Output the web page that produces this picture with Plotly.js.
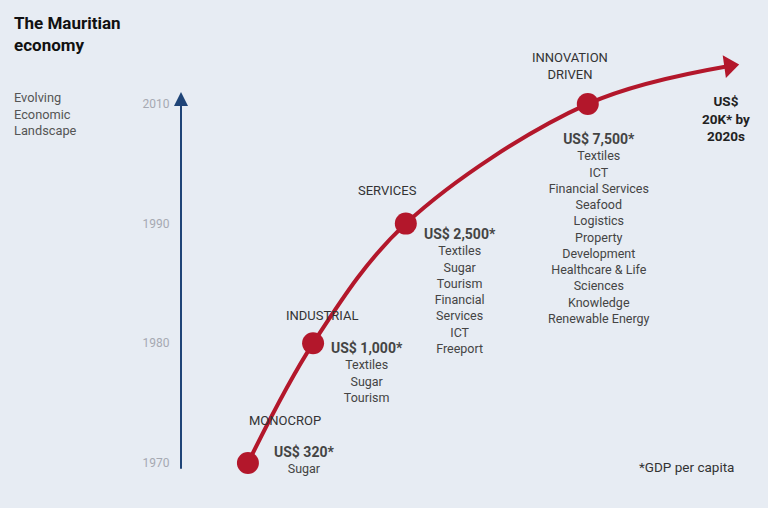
<!DOCTYPE html>
<html>
<head>
<meta charset="utf-8">
<script src="https://cdn.plot.ly/plotly-3.0.1.min.js"></script>
<style>
html,body{margin:0;padding:0;background:#e7ecf3;}
#chart{width:768px;height:508px;}
</style>
</head>
<body>
<div id="chart"></div>
<script>
// ---- data ----
const years = ['1970', '1980', '1990', '2010'];
const stageIndex = [0, 1, 2, 3];
const curveProgress = [1.14, 2.25, 3.83, 6.93];
const stages = ['MONOCROP', 'INDUSTRIAL', 'SERVICES', 'INNOVATION<br>DRIVEN'];
const gdpLabels = ['US$ 320*', 'US$ 1,000*', 'US$ 2,500*', 'US$ 7,500*'];
const sectors = [
  ['Sugar'],
  ['Textiles', 'Sugar', 'Tourism'],
  ['Textiles', 'Sugar', 'Tourism', 'Financial', 'Services', 'ICT', 'Freeport'],
  ['Textiles', 'ICT', 'Financial Services', 'Seafood', 'Logistics', 'Property',
   'Development', 'Healthcare &amp; Life', 'Sciences', 'Knowledge', 'Renewable Energy']
];
const futureProgress = 9.34;
const futureIndex = 3.317;
const futureLabel = 'US$<br>20K* by<br>2020s';
const footnote = '*GDP per capita';
const titleText = 'The Mauritian<br>economy';
const subtitleText = 'Evolving<br>Economic<br>Landscape';

// ---- styles ----
const RED = '#b3172b';
const BLUE = '#1f4477';
const FONT = 'Roboto, "Open Sans", sans-serif';

const stageShift = [[37, -42], [9, -28], [-18, -33], [-18, -38]];
const gdpShift = [[56, -21], [54, -5], [54, 0], [11, 25]];

const lineX = curveProgress.concat([futureProgress]);
const lineY = stageIndex.concat([futureIndex]);

const traces = [
  {
    x: lineX, y: lineY, type: 'scatter', mode: 'lines',
    line: {color: RED, width: 4, shape: 'spline', smoothing: 1.0},
    hoverinfo: 'skip'
  },
  {
    x: curveProgress, y: stageIndex, type: 'scatter', mode: 'markers',
    marker: {color: RED, size: 22},
    hoverinfo: 'skip'
  },
  {
    x: [futureProgress], y: [futureIndex], type: 'scatter', mode: 'markers',
    marker: {color: RED, size: 20, symbol: 'triangle-right', angle: -8},
    hoverinfo: 'skip'
  }
];

const W = 768, H = 508, L = 181, R = 0, T = 40, B = 20;
function paperX(px) { return (px - L) / (W - L - R); }
function paperY(py) { return (H - B - py) / (H - T - B); }

const annotations = [];
for (let i = 0; i < stages.length; i++) {
  annotations.push({
    x: curveProgress[i], y: stageIndex[i], xref: 'x', yref: 'y',
    text: stages[i], showarrow: false, xanchor: 'center', yanchor: 'middle',
    xshift: stageShift[i][0], yshift: -stageShift[i][1],
    font: {family: FONT, size: 13, color: '#333'}, align: 'center'
  });
  annotations.push({
    x: curveProgress[i], y: stageIndex[i], xref: 'x', yref: 'y',
    text: '<b><span style="font-size:14px">' + gdpLabels[i] + '</span></b><br>' + sectors[i].join('<br>'),
    showarrow: false, xanchor: 'center', yanchor: 'top',
    xshift: gdpShift[i][0], yshift: -gdpShift[i][1],
    font: {family: FONT, size: 12.5, color: '#444'}, align: 'center'
  });
}
annotations.push({
  x: futureProgress, y: futureIndex, xref: 'x', yref: 'y',
  text: '<b>' + futureLabel + '</b>', showarrow: false,
  xanchor: 'center', yanchor: 'top', xshift: -3, yshift: -25,
  font: {family: FONT, size: 13.5, color: '#222'}, align: 'center'
});
annotations.push({
  x: paperX(686), y: paperY(467), xref: 'paper', yref: 'paper',
  text: footnote, showarrow: false, xanchor: 'center', yanchor: 'middle',
  font: {family: FONT, size: 13.5, color: '#333'}
});
// axis arrow
annotations.push({
  x: 0, y: 3.1, xref: 'x', yref: 'y', ax: 0, ay: -0.06, axref: 'x', ayref: 'y',
  text: '', showarrow: true, arrowhead: 2, arrowsize: 1.4, arrowwidth: 2, arrowcolor: BLUE
});
annotations.push({
  x: paperX(12), y: paperY(88), xref: 'paper', yref: 'paper',
  text: subtitleText, showarrow: false, xanchor: 'left', yanchor: 'top', align: 'left',
  font: {family: FONT, size: 12.8, color: '#555'}
});

const layout = {
  width: W, height: H,
  margin: {l: L, r: R, t: T, b: B},
  paper_bgcolor: '#e7ecf3', plot_bgcolor: '#e7ecf3',
  showlegend: false,
  title: {
    text: '<b>' + titleText + '</b>',
    x: 14 / W, xref: 'container', xanchor: 'left',
    y: 1 - 29 / H, yref: 'container', yanchor: 'top',
    font: {family: FONT, size: 17, color: '#111'}
  },
  xaxis: {range: [0, 10], visible: false, fixedrange: true},
  yaxis: {
    range: [-0.209, 3.534], tickvals: stageIndex, ticktext: years,
    showgrid: false, zeroline: false, showline: false,
    ticks: 'outside', ticklen: 8, tickcolor: 'rgba(0,0,0,0)',
    tickfont: {family: FONT, size: 12, color: '#a6a9b2'}, fixedrange: true
  },
  annotations: annotations,
  hovermode: false
};

Plotly.newPlot('chart', traces, layout, {displayModeBar: false, staticPlot: true});
</script>
</body>
</html>
